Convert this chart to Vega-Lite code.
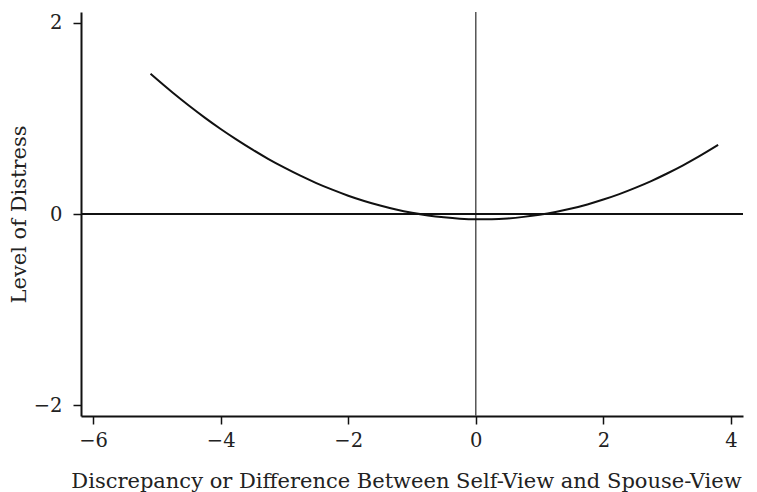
{
  "$schema": "https://vega.github.io/schema/vega-lite/v6.json",
  "autosize": "none",
  "width": 662,
  "height": 404,
  "padding": {"left": 81, "top": 12, "right": 14, "bottom": 76},
  "background": "white",
  "config": {
    "view": {"stroke": null},
    "axis": {
      "grid": false,
      "domainColor": "#111",
      "domainWidth": 2,
      "tickColor": "#111",
      "tickWidth": 1.5,
      "tickSize": 8,
      "labelFont": "DejaVu Serif",
      "labelFontSize": 19.5,
      "labelColor": "#222",
      "titleFont": "DejaVu Serif",
      "titleFontSize": 21,
      "titleFontWeight": "normal",
      "titleColor": "#222"
    }
  },
  "datasets": {
    "curve": [
      {"x": -5.1, "y": 1.464},
      {"x": -4.75, "y": 1.266},
      {"x": -4.5, "y": 1.133},
      {"x": -4.25, "y": 1.007},
      {"x": -4.0, "y": 0.888},
      {"x": -3.75, "y": 0.777},
      {"x": -3.5, "y": 0.672},
      {"x": -3.25, "y": 0.574},
      {"x": -3.0, "y": 0.484},
      {"x": -2.75, "y": 0.4},
      {"x": -2.5, "y": 0.323},
      {"x": -2.25, "y": 0.254},
      {"x": -2.0, "y": 0.191},
      {"x": -1.75, "y": 0.136},
      {"x": -1.5, "y": 0.088},
      {"x": -1.25, "y": 0.046},
      {"x": -1.0, "y": 0.012},
      {"x": -0.75, "y": -0.015},
      {"x": -0.5, "y": -0.035},
      {"x": -0.25, "y": -0.049},
      {"x": 0.0, "y": -0.055},
      {"x": 0.25, "y": -0.054},
      {"x": 0.5, "y": -0.046},
      {"x": 0.75, "y": -0.03},
      {"x": 1.0, "y": -0.008},
      {"x": 1.25, "y": 0.021},
      {"x": 1.5, "y": 0.057},
      {"x": 1.75, "y": 0.1},
      {"x": 2.0, "y": 0.151},
      {"x": 2.25, "y": 0.208},
      {"x": 2.5, "y": 0.273},
      {"x": 2.75, "y": 0.344},
      {"x": 3.0, "y": 0.423},
      {"x": 3.25, "y": 0.508},
      {"x": 3.5, "y": 0.601},
      {"x": 3.8, "y": 0.721}
    ],
    "zero": [{"v": 0}]
  },
  "layer": [
    {
      "data": {"name": "zero"},
      "mark": {"type": "rule", "color": "#555", "strokeWidth": 1.5},
      "encoding": {
        "x": {"field": "v", "type": "quantitative", "scale": {"domain": [-6.19, 4.19], "nice": false, "zero": false}}
      }
    },
    {
      "data": {"name": "zero"},
      "mark": {"type": "rule", "color": "#111", "strokeWidth": 2},
      "encoding": {
        "y": {"field": "v", "type": "quantitative", "scale": {"domain": [-2.11, 2.11], "nice": false, "zero": false}}
      }
    },
    {
      "data": {"name": "curve"},
      "mark": {"type": "line", "color": "#111", "strokeWidth": 2, "interpolate": "monotone"},
      "encoding": {
        "x": {
          "field": "x", "type": "quantitative",
          "scale": {"domain": [-6.19, 4.19], "nice": false, "zero": false},
          "axis": {"values": [-6, -4, -2, 0, 2, 4], "format": "d", "title": "Discrepancy or Difference Between Self-View and Spouse-View", "labelPadding": 7, "titleBaseline": "alphabetic", "titleY": 71, "titleX": 325}
        },
        "y": {
          "field": "y", "type": "quantitative",
          "scale": {"domain": [-2.11, 2.11], "nice": false, "zero": false},
          "axis": {"values": [-2, 0, 2], "format": "d", "title": "Level of Distress", "labelPadding": 11, "titleAngle": -90, "titleBaseline": "alphabetic", "titleX": -56, "titleY": 202, "titleAlign": "center"}
        }
      }
    }
  ]
}
